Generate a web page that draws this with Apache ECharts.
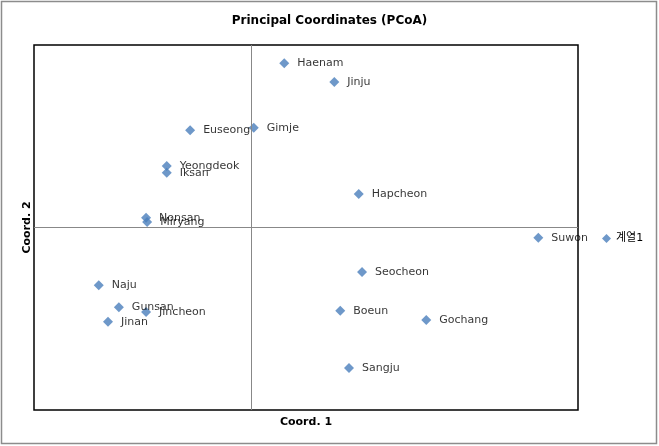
<!DOCTYPE html>
<html><head><meta charset="utf-8">
<script src="https://cdn.jsdelivr.net/npm/echarts@6/dist/echarts.min.js"></script>
<style>html,body{margin:0;padding:0;background:#fff;}#c{width:659px;height:446px;}</style>
</head><body><div id="c"></div>
<script>
const names = ["Haenam","Jinju","Euseong","Gimje","Yeongdeok","Iksan","Hapcheon","Nonsan","Miryang","Suwon","Seocheon","Naju","Gunsan","Jincheon","Jinan","Boeun","Gochang","Sangju"];
const coord1 = [0.060,0.152,-0.113,0.004,-0.156,-0.156,0.197,-0.194,-0.192,0.527,0.203,-0.281,-0.244,-0.194,-0.264,0.163,0.321,0.179];
const coord2 = [0.270,0.239,0.160,0.164,0.101,0.090,0.055,0.016,0.009,-0.017,-0.073,-0.095,-0.131,-0.139,-0.155,-0.137,-0.152,-0.231];
const seriesName = "계열1";
const xRange = [-0.4, 0.6];
const yRange = [-0.3, 0.3];

const FONT = '"DejaVu Sans", "Noto Sans CJK KR", sans-serif';
const data = names.map((n,i)=>({name:n, value:[coord1[i], coord2[i]]}));
const chart = echarts.init(document.getElementById('c'));
chart.setOption({
  animation:false,
  backgroundColor:'#fff',
  title:{text:'Principal Coordinates (PCoA)', left:'center', top:10,
    textStyle:{fontFamily:FONT, fontSize:12, fontWeight:'bold', color:'#000'}},
  legend:{orient:'vertical', left:597, top:228, itemWidth:9, itemHeight:9, itemGap:4,
    textStyle:{fontFamily:FONT, fontSize:11, color:'#000'},
    data:[{name:seriesName, icon:'diamond'}]},
  graphic:[{type:'rect', shape:{x:1.5,y:1.5,width:655,height:442}, style:{fill:'none', stroke:'#8c8c8c', lineWidth:1.5}, silent:true}],
  grid:{left:34, right:81, top:45, bottom:36, show:true, borderColor:'#000', borderWidth:1.5, backgroundColor:'#fff'},
  xAxis:{type:'value', min:xRange[0], max:xRange[1], name:'Coord. 1', nameLocation:'middle', nameGap:7,
    nameTextStyle:{fontFamily:FONT, fontSize:11, fontWeight:'bold', color:'#000'},
    axisLine:{show:false}, axisTick:{show:false}, axisLabel:{show:false}, splitLine:{show:false}},
  yAxis:{type:'value', min:yRange[0], max:yRange[1], name:'Coord. 2', nameLocation:'middle', nameGap:1,
    nameTextStyle:{fontFamily:FONT, fontSize:11, fontWeight:'bold', color:'#000'},
    axisLine:{show:false}, axisTick:{show:false}, axisLabel:{show:false}, splitLine:{show:false}},
  series:[{
    name:seriesName, type:'scatter', symbol:'diamond', symbolSize:10,
    itemStyle:{color:'#4a7ebb'},
    label:{show:true, position:'right', distance:8, formatter:'{b}', fontFamily:FONT, fontSize:11, color:'#000'},
    data:data,
    markLine:{silent:true, symbol:'none', label:{show:false}, lineStyle:{color:'#888', width:1, type:'solid'},
      data:[{xAxis:0},{yAxis:0}]}
  }]
});
</script></body></html>
